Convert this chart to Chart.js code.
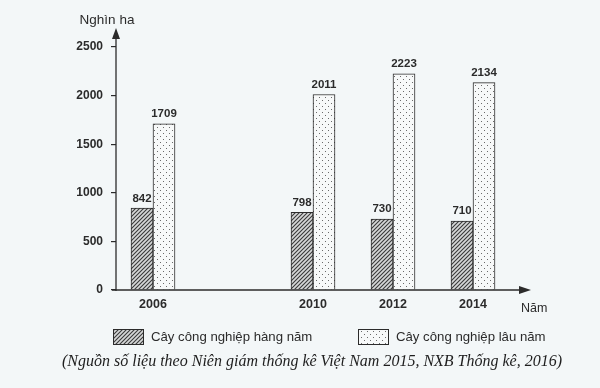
<!DOCTYPE html>
<html>
<head>
<meta charset="utf-8">
<script src="https://cdn.jsdelivr.net/npm/chart.js@4"></script>
<style>
  html, body { margin: 0; padding: 0; background: #f3f7f8; }
  #wrap { width: 600px; height: 388px; }
</style>
</head>
<body>
<div id="wrap"><canvas id="bieudo" width="600" height="388"></canvas></div>
<script>
let nam = [2006, 2010, 2012, 2014];
let hangNam = [842, 798, 730, 710];
let lauNam = [1709, 2011, 2223, 2134];
let tenSeries = ['Cây công nghiệp hàng năm', 'Cây công nghiệp lâu năm'];
let yTicks = [0, 500, 1000, 1500, 2000, 2500];
let nguon = '(Nguồn số liệu theo Niên giám thống kê Việt Nam 2015, NXB Thống kê, 2016)';

let mau = '#2b2b2b';

function soc(){
  let c = document.createElement('canvas');
  c.width = 4; c.height = 4;
  let g = c.getContext('2d');
  g.fillStyle = '#d6d8d8';
  g.fillRect(0, 0, 4, 4);
  g.strokeStyle = '#3a3a3a';
  g.lineWidth = 1.1;
  g.beginPath();
  g.moveTo(-1, 5); g.lineTo(5, -1);
  g.moveTo(-1, 1); g.lineTo(1, -1);
  g.moveTo(3, 5); g.lineTo(5, 3);
  g.stroke();
  return g.createPattern(c, 'repeat');
}

function cham(){
  let c = document.createElement('canvas');
  c.width = 6; c.height = 6;
  let g = c.getContext('2d');
  g.fillStyle = '#f7f9f9';
  g.fillRect(0, 0, 6, 6);
  g.fillStyle = '#6a6a6a';
  g.fillRect(1, 1, 1, 1);
  g.fillRect(4, 4, 1, 1);
  return g.createPattern(c, 'repeat');
}

let ve = {
  id: 've',
  afterDraw(chart){
    let ctx = chart.ctx;
    let x0 = chart.scales.x.left;
    let y0 = chart.scales.y.getPixelForValue(0);
    ctx.save();
    ctx.strokeStyle = mau;
    ctx.fillStyle = mau;
    ctx.lineWidth = 1.3;
    // truc y
    ctx.beginPath();
    ctx.moveTo(x0, y0 + 1);
    ctx.lineTo(x0, 36);
    ctx.stroke();
    ctx.beginPath();
    ctx.moveTo(x0, 28); ctx.lineTo(x0 - 4, 39); ctx.lineTo(x0 + 4, 39);
    ctx.closePath(); ctx.fill();
    // truc x
    ctx.beginPath();
    ctx.moveTo(x0 - 4, y0);
    ctx.lineTo(522, y0);
    ctx.stroke();
    ctx.beginPath();
    ctx.moveTo(531, y0); ctx.lineTo(519, y0 - 4); ctx.lineTo(519, y0 + 4);
    ctx.closePath(); ctx.fill();

    ctx.font = '13.5px "Liberation Sans", Arial, sans-serif';
    ctx.textBaseline = 'middle';
    ctx.textAlign = 'center';
    ctx.fillText('Nghìn ha', 107, 20);
    ctx.font = '12.5px "Liberation Sans", Arial, sans-serif';
    ctx.textAlign = 'left';
    ctx.fillText('Năm', 521, 309);

    // so lieu tren cot
    ctx.font = 'bold 11.5px "Liberation Sans", Arial, sans-serif';
    ctx.textAlign = 'center';
    ctx.textBaseline = 'bottom';
    chart.data.datasets.forEach((ds, i) => {
      chart.getDatasetMeta(i).data.forEach((bar, j) => {
        ctx.fillText(ds.data[j].y, bar.x, bar.y - 4);
      });
    });

    // chu giai
    ctx.font = '13.2px "Liberation Sans", Arial, sans-serif';
    ctx.textBaseline = 'middle';
    ctx.textAlign = 'left';
    let lx = [113, 358];
    chart.data.datasets.forEach((ds, i) => {
      ctx.fillStyle = ds.backgroundColor;
      ctx.fillRect(lx[i], 329, 30, 15);
      ctx.lineWidth = 1;
      ctx.strokeRect(lx[i] + 0.5, 329.5, 30, 15);
      ctx.fillStyle = mau;
      ctx.fillText(ds.label, lx[i] + 38, 337);
    });

    ctx.font = 'italic 16px "Liberation Serif", "DejaVu Serif", serif';
    ctx.textAlign = 'center';
    ctx.fillStyle = '#1e1e1e';
    ctx.fillText(nguon, 312, 362);
    ctx.restore();
  }
};

window.onload = () => {
  let grafica = document.querySelector('#bieudo').getContext('2d');
  let data = {
    type: 'bar',
    data: {
      datasets: [
        {
          label: tenSeries[0],
          data: nam.map((n, i) => ({x: n, y: hangNam[i]})),
          backgroundColor: soc(),
          borderColor: mau,
          borderWidth: 1,
          borderSkipped: 'bottom',
          barThickness: 22
        },
        {
          label: tenSeries[1],
          data: nam.map((n, i) => ({x: n, y: lauNam[i]})),
          backgroundColor: cham(),
          borderColor: mau,
          borderWidth: 1,
          borderSkipped: 'bottom',
          barThickness: 22
        }
      ]
    },
    options: {
      responsive: false,
      animation: false,
      layout: { padding: { left: 0, right: 78, top: 47, bottom: 68 } },
      plugins: {
        legend: { display: false },
        tooltip: { enabled: false }
      },
      scales: {
        x: {
          type: 'linear',
          offset: false,
          min: 2005.075,
          max: 2015.225,
          afterBuildTicks: s => { s.ticks = nam.map(v => ({value: v})); },
          afterFit: s => { s.height = 30; },
          grid: { display: false, drawTicks: false },
          border: { display: false },
          ticks: {
            color: mau,
            padding: 7,
            autoSkip: false,
            maxRotation: 0,
            font: { family: '"Liberation Sans", Arial, sans-serif', size: 12.5, weight: 'bold' },
            callback: v => String(v)
          }
        },
        y: {
          min: 0,
          max: 2500,
          afterBuildTicks: s => { s.ticks = yTicks.map(v => ({value: v})); },
          afterFit: s => { s.width = 116; },
          grid: { drawOnChartArea: false, drawTicks: true, tickLength: 5, color: mau, lineWidth: 1.2 },
          border: { display: false },
          ticks: {
            color: mau,
            padding: 8,
            font: { family: '"Liberation Sans", Arial, sans-serif', size: 12, weight: 'bold' },
            callback: v => String(v)
          }
        }
      }
    },
    plugins: [ve]
  };
  let chart = new Chart(grafica, data);
};
</script>
</body>
</html>
